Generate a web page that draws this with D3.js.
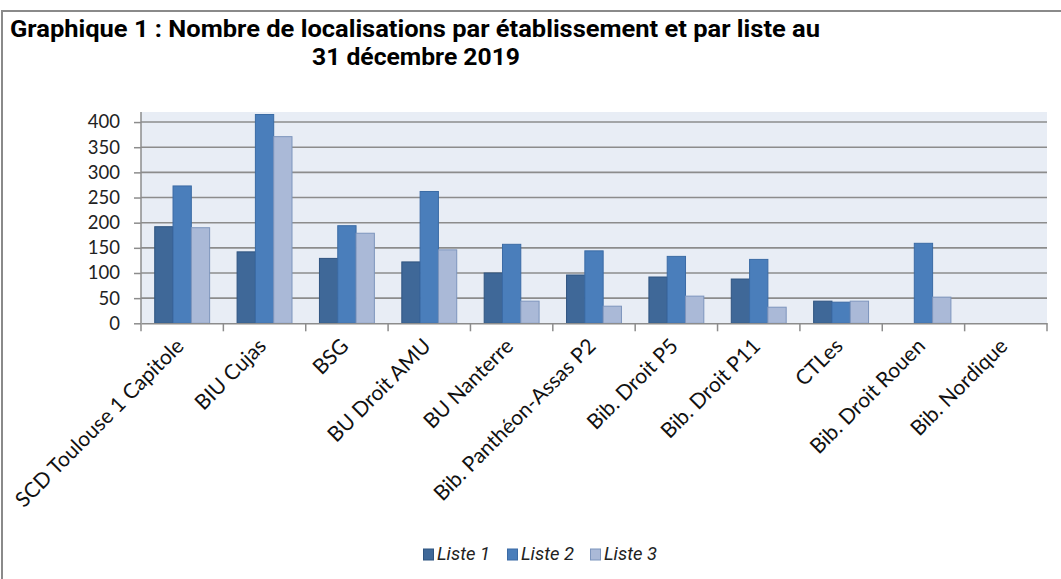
<!DOCTYPE html>
<html>
<head>
<meta charset="utf-8">
<script src="https://cdn.jsdelivr.net/npm/d3@7"></script>
<style>
  body { margin: 0; background: #fff; }
  svg { display: block; }
</style>
</head>
<body>
<div id="canvas"></div>
<script>
const categories = ['SCD Toulouse 1 Capitole', 'BIU Cujas', 'BSG', 'BU Droit AMU', 'BU Nanterre',
  'Bib. Panthéon-Assas P2', 'Bib. Droit P5', 'Bib. Droit P11', 'CTLes', 'Bib. Droit Rouen', 'Bib. Nordique'];
const series = ['Liste 1', 'Liste 2', 'Liste 3'];
const liste1 = [192, 142, 129, 122, 100, 96, 92, 88, 44, 0, 0];
const liste2 = [273, 415, 194, 262, 157, 144, 133, 127, 42, 159, 0];
const liste3 = [190, 371, 179, 146, 44, 34, 54, 32, 44, 52, 0];
const yTicks = [0, 50, 100, 150, 200, 250, 300, 350, 400];

const W = 1061, H = 579;
const fills = ['#3f6898', '#4a7ebb', '#aab9d7'];
const strokes = ['#2f5480', '#3b6ba5', '#7d95bd'];
const values = [liste1, liste2, liste3];
const tahoma = 'Tahoma, Roboto, "DejaVu Sans", sans-serif';
const calibri = 'Lato, "Open Sans", sans-serif';

const Svg = d3.select('#canvas').append('svg')
  .attr('width', W)
  .attr('height', H);

// outer frame (runs off the right and bottom of the picture)
Svg.append('rect')
  .attr('x', 2).attr('y', 11)
  .attr('width', W + 10).attr('height', H + 10)
  .attr('fill', '#fff')
  .attr('stroke', '#8a8a8a')
  .attr('stroke-width', 2);

// title
const title = Svg.append('text')
  .attr('font-family', tahoma)
  .attr('font-weight', 'bold')
  .attr('font-size', '23px')
  .attr('fill', '#000');
title.append('tspan').attr('x', 10).attr('y', 37)
  .attr('textLength', 810).attr('lengthAdjust', 'spacingAndGlyphs')
  .text('Graphique 1 : Nombre de localisations par établissement et par liste au');
title.append('tspan').attr('x', 312).attr('y', 65)
  .attr('textLength', 208).attr('lengthAdjust', 'spacingAndGlyphs')
  .text('31 décembre 2019');

const pLeft = 141, pRight = 1047, pTop = 112, pBottom = 323.3;

const x = d3.scaleBand()
  .domain(categories)
  .range([pLeft, pRight])
  .paddingInner(0)
  .paddingOuter(0);

const inner = d3.scaleBand()
  .domain(series)
  .range([0, x.bandwidth()])
  .paddingOuter(0.75)
  .paddingInner(0);

const y = d3.scaleLinear()
  .domain([0, 420])
  .range([pBottom, pTop]);

// plot background
Svg.append('rect')
  .attr('x', pLeft).attr('y', pTop)
  .attr('width', pRight - pLeft).attr('height', pBottom - pTop)
  .attr('fill', '#e8edf5');

// gridlines
Svg.append('g')
  .selectAll('line')
  .data(yTicks.filter(d => d > 0))
  .enter()
  .append('line')
  .attr('x1', pLeft).attr('x2', pRight)
  .attr('y1', d => y(d)).attr('y2', d => y(d))
  .attr('stroke', '#8c8c8c')
  .attr('stroke-width', 1.6);

// bars
const groups = Svg.append('g')
  .selectAll('g')
  .data(series)
  .enter()
  .append('g')
  .attr('fill', (d, i) => fills[i])
  .attr('stroke', (d, i) => strokes[i]);

groups.selectAll('rect')
  .data((s, i) => categories.map((c, j) => ({ c, s, v: values[i][j] })).filter(d => d.v > 0))
  .enter()
  .append('rect')
  .attr('x', d => x(d.c) + inner(d.s))
  .attr('y', d => y(d.v))
  .attr('width', inner.bandwidth())
  .attr('height', d => y(0) - y(d.v))
  .attr('stroke-width', 1);

// y axis
const yAxis = d3.axisLeft(y)
  .tickValues(yTicks)
  .tickSize(7)
  .tickPadding(14);

const gy = Svg.append('g')
  .attr('transform', `translate(${pLeft}, 0)`)
  .call(yAxis);
gy.select('.domain').attr('d', `M0,${pTop}V${pBottom}`).attr('stroke', '#8c8c8c').attr('stroke-width', 1.5);
gy.selectAll('.tick line').attr('stroke', '#8c8c8c').attr('stroke-width', 1.5);
gy.selectAll('.tick text')
  .attr('font-family', calibri)
  .attr('font-size', '18.5px')
  .attr('fill', '#222');

// x axis
const xAxis = d3.axisBottom(x)
  .tickSize(0)
  .tickPadding(0);

const gx = Svg.append('g')
  .attr('transform', `translate(0, ${pBottom})`)
  .call(xAxis);
gx.select('.domain').attr('stroke', '#8c8c8c').attr('stroke-width', 1.5);
gx.selectAll('.tick').remove();

// boundary ticks between categories
gx.selectAll('line.sep')
  .data(d3.range(categories.length + 1))
  .enter()
  .append('line')
  .attr('class', 'sep')
  .attr('x1', i => pLeft + i * x.bandwidth())
  .attr('x2', i => pLeft + i * x.bandwidth())
  .attr('y1', 0).attr('y2', 8)
  .attr('stroke', '#8c8c8c')
  .attr('stroke-width', 1.5);

gx.selectAll('text.lab')
  .data(categories)
  .enter()
  .append('text')
  .attr('class', 'lab')
  .text(d => d)
  .attr('font-family', calibri)
  .attr('font-size', '21px')
  .attr('fill', '#111')
  .attr('text-anchor', 'end')
  .attr('transform', d => `translate(${x(d) + x.bandwidth() / 2 + 3}, 24) rotate(-45)`);

// legend
const legend = Svg.append('g')
  .attr('transform', 'translate(423, 560)');
const legX = [0, 84, 167];
series.forEach((s, i) => {
  const g = legend.append('g').attr('transform', `translate(${legX[i]}, 0)`);
  g.append('rect')
    .attr('x', 0.5).attr('y', -11)
    .attr('width', 10).attr('height', 11)
    .attr('fill', fills[i])
    .attr('stroke', strokes[i]);
  g.append('text')
    .text(s)
    .attr('x', 14).attr('y', 0)
    .attr('font-family', tahoma)
    .attr('font-style', 'italic')
    .attr('font-size', '18px')
    .attr('textLength', 53).attr('lengthAdjust', 'spacingAndGlyphs')
    .attr('fill', '#222');
});
</script>
</body>
</html>
